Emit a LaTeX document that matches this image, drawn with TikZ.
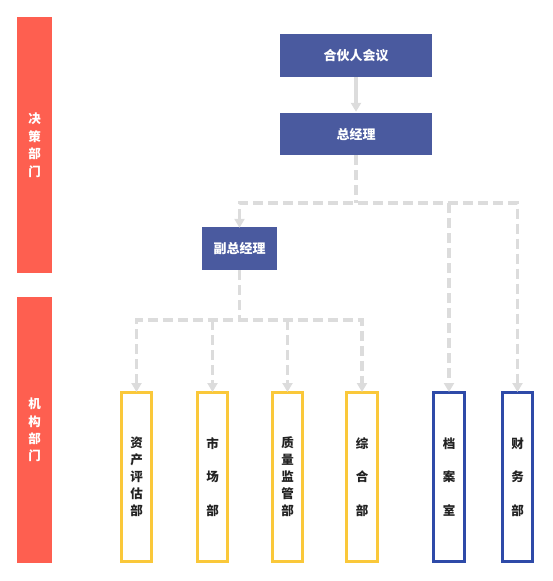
\documentclass[tikz,border=0pt]{standalone}
\usepackage{fontspec}
\newfontfamily\cjk{Noto Sans CJK SC}
\usetikzlibrary{arrows.meta}
\definecolor{redbar}{HTML}{FE5F50}
\definecolor{navy}{HTML}{4A5A9F}
\definecolor{blueln}{HTML}{2E4AA8}
\definecolor{yell}{HTML}{FAC83A}
\definecolor{conn}{HTML}{DCDCDC}
\definecolor{txt}{HTML}{222222}
\tikzset{
  x=1pt, y=-1pt,
  side/.style={fill=redbar, draw=none, minimum width=35pt, inner sep=0pt, text=white,
    font=\cjk\bfseries\fontsize{12.5}{17.5}\selectfont, align=center},
  topbox/.style={fill=navy, draw=none, inner sep=0pt, text=white,
    font=\cjk\bfseries\fontsize{13}{15}\selectfont},
  deptbox/.style={draw=#1, line width=3.3pt, fill=white, minimum width=30.5pt, minimum height=168.7pt,
    inner sep=0pt, text=txt, align=center},
  five/.style={font=\cjk\bfseries\fontsize{12.5}{17}\selectfont},
  three/.style={font=\cjk\bfseries\fontsize{12.5}{33.5}\selectfont},
  link/.style={draw=conn, line width=3.3pt},
  dlink/.style={draw=conn, line width=3.3pt, dash pattern=on 10pt off 5pt},
  tip/.style={-{Triangle[width=10pt,length=9pt]}},
  tips/.style={{Triangle[width=10pt,length=9pt]}-{Triangle[width=10pt,length=9pt]}},
}
\begin{document}
\begin{tikzpicture}
\useasboundingbox (0,0) rectangle (553,581);
% side bars
\node[side, minimum height=256pt] (r1) at (34.5,145) {决\\策\\部\\门};
\node[side, minimum height=266pt] (r2) at (34.5,430) {机\\构\\部\\门};
% top boxes
\node[topbox, minimum width=152pt, minimum height=43pt] (hh) at (356,55.5) {合伙人会议};
\node[topbox, minimum width=152pt, minimum height=42pt] (zjl) at (356,134) {总经理};
\node[topbox, minimum width=75pt, minimum height=43pt] (fz) at (239.5,248.5) {副总经理};
% departments
\node[deptbox=yell, five] (d1) at (136.5,477) {资\\产\\评\\估\\部};
\node[deptbox=yell, three] (d2) at (212.5,477) {市\\场\\部};
\node[deptbox=yell, five] (d3) at (287.5,477) {质\\量\\监\\管\\部};
\node[deptbox=yell, three] (d4) at (362,477) {综\\合\\部};
\node[deptbox=blueln, three] (d5) at (449,477) {档\\案\\室};
\node[deptbox=blueln, three] (d6) at (517.5,477) {财\\务\\部};
% coordinates
\coordinate (j1) at (356,203);
\coordinate (j1l) at (239.5,203);
\coordinate (j1r) at (517.5,203);
\coordinate (j1m) at (449,203);
\coordinate (j2) at (239.5,320);
\coordinate (j2l) at (136.5,320);
\coordinate (j2r) at (362,320);
\coordinate (j2a) at (212.5,320);
\coordinate (j2b) at (287.5,320);
% connectors
\draw[link, tip, shorten >=1pt] (hh.south) -- (zjl.north);
\draw[dlink] (zjl.south) -- (j1);
\draw[dlink, tips, shorten <=-1pt, shorten >=-1pt] (fz.north) -- (j1l) -- (j1r) -- (d6.north);
\draw[dlink, tip, shorten >=-1pt] (j1m) -- (d5.north);
\draw[dlink] (fz.south) -- (j2);
\draw[dlink, tips, shorten <=-1pt, shorten >=-1pt] (d1.north) -- (j2l) -- (j2r) -- (d4.north);
\draw[dlink, tip, shorten >=-1pt] (j2a) -- (d2.north);
\draw[dlink, tip, shorten >=-1pt] (j2b) -- (d3.north);
\end{tikzpicture}
\end{document}
